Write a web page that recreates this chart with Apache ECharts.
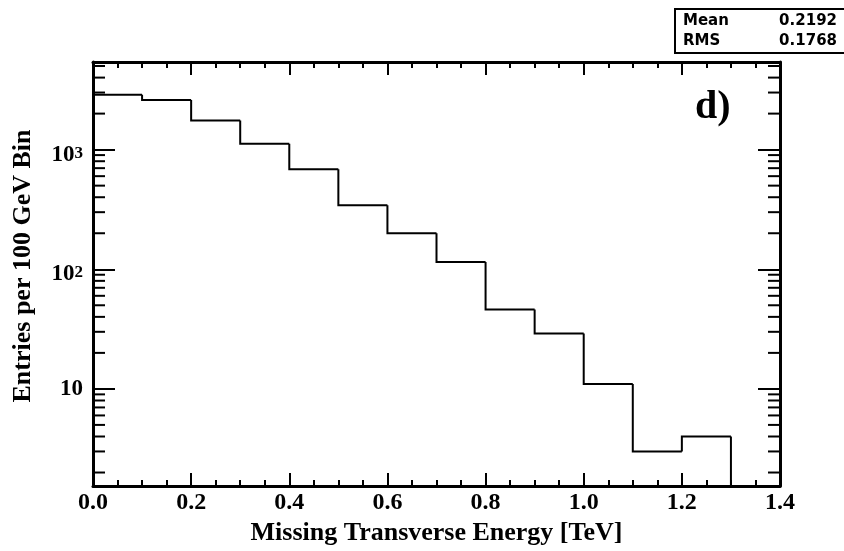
<!DOCTYPE html>
<html>
<head>
<meta charset="utf-8">
<script src="https://cdn.jsdelivr.net/npm/echarts@6/dist/echarts.min.js"></script>
<style>
html,body{margin:0;padding:0;background:#fff;}
#chart{width:844px;height:551px;}
</style>
</head>
<body>
<div id="chart"></div>
<script>
// ---- data ----
const binLow = [0.0, 0.1, 0.2, 0.3, 0.4, 0.5, 0.6, 0.7, 0.8, 0.9, 1.0, 1.1, 1.2, 1.3];
const binWidth = 0.1;
const counts = [2870, 2600, 1750, 1120, 685, 342, 200, 115, 46, 29, 11, 3, 4, 0];
const xTickLabels = ['0.0', '0.2', '0.4', '0.6', '0.8', '1.0', '1.2', '1.4'];
const yMinorTicks = [2, 3, 4, 5, 6, 7, 8, 9, 20, 30, 40, 50, 60, 70, 80, 90,
  200, 300, 400, 500, 600, 700, 800, 900, 2000, 3000, 4000, 5000];
const statsNames = ['Mean', 'RMS'];
const statsValues = ['0.2192', '0.1768'];
const xTitle = 'Missing Transverse Energy [TeV]';
const yTitle = 'Entries per 100 GeV Bin';
const panelLabel = 'd)';

const FONT = 'Liberation Serif';
const chart = echarts.init(document.getElementById('chart'), null, {renderer: 'canvas'});

const histData = binLow.map((lo, i) => [lo, lo + binWidth, counts[i], i > 0 ? counts[i - 1] : -1]);

function xAxisCfg(pos, showLabel) {
  return {
    type: 'value', position: pos, min: 0, max: 1.4, interval: 0.2,
    axisLine: {show: true, onZero: false, lineStyle: {color: '#000', width: 3}},
    axisTick: {show: true, inside: true, length: 13, lineStyle: {color: '#000', width: 2}},
    minorTick: {show: true, splitNumber: 4, length: 6, lineStyle: {color: '#000', width: 2}},
    splitLine: {show: false}, minorSplitLine: {show: false},
    axisLabel: {show: showLabel, margin: 5, color: '#000', fontFamily: FONT, fontWeight: 'bold', fontSize: 24,
      formatter: v => xTickLabels[Math.round(v / 0.2)] || ''}
  };
}
function yAxisCfg(pos, showLabel) {
  return {
    type: 'log', logBase: 10, position: pos, min: 1.54, max: 5400,
    axisLine: {show: true, onZero: false, lineStyle: {color: '#000', width: 3}},
    axisTick: {show: true, inside: true, length: 22, lineStyle: {color: '#000', width: 2}},
    minorTick: {show: false}, splitLine: {show: false},
    axisLabel: {show: showLabel, margin: 10, showMinLabel: false, showMaxLabel: false,
      color: '#000', fontFamily: FONT, fontWeight: 'bold',
      formatter: function (v) {
        const e = Math.round(Math.log10(v));
        if (Math.abs(v - Math.pow(10, e)) > 1e-6 * v) return '';
        if (e === 1) return '{c|10}';
        return '{b|10}{s|' + e + '}';
      },
      rich: {
        c: {fontFamily: FONT, fontWeight: 'bold', fontSize: 23, color: '#000'},
        b: {fontFamily: FONT, fontWeight: 'bold', fontSize: 23, lineHeight: 20, padding: [10, 0, 0, 0], color: '#000'},
        s: {fontFamily: FONT, fontWeight: 'bold', fontSize: 17, lineHeight: 16, padding: [5, 0, 0, 0], verticalAlign: 'top', color: '#000'}
      }
    }
  };
}

const option = {
  backgroundColor: '#fff',
  animation: false,
  grid: {left: 93, right: 64, top: 62, bottom: 59, containLabel: false},
  xAxis: [
    Object.assign(xAxisCfg('bottom', true), {name: xTitle, nameLocation: 'middle', nameGap: 31,
      nameTextStyle: {fontFamily: FONT, fontWeight: 'bold', fontSize: 26, color: '#000'}}),
    xAxisCfg('top', false)
  ],
  yAxis: [yAxisCfg('left', true), yAxisCfg('right', false)],
  graphic: [
    {type: 'text', x: 23, y: 266, rotation: Math.PI / 2,
      style: {text: yTitle, font: 'bold 26px "Liberation Serif"', fill: '#000', textAlign: 'center', textVerticalAlign: 'middle'}},
    {type: 'text', x: 695, y: 108,
      style: {text: panelLabel, font: 'bold 40px "Liberation Serif"', fill: '#000', textAlign: 'left', textVerticalAlign: 'middle'}},
    {type: 'rect', shape: {x: 675, y: 9, width: 172, height: 44}, style: {fill: '#fff', stroke: '#000', lineWidth: 2}},
    {type: 'text', x: 683, y: 21, style: {text: statsNames[0], font: 'bold 15px "DejaVu Sans"', fill: '#000', textAlign: 'left', textVerticalAlign: 'middle'}},
    {type: 'text', x: 837, y: 21, style: {text: statsValues[0], font: 'bold 15px "DejaVu Sans"', fill: '#000', textAlign: 'right', textVerticalAlign: 'middle'}},
    {type: 'text', x: 683, y: 41, style: {text: statsNames[1], font: 'bold 15px "DejaVu Sans"', fill: '#000', textAlign: 'left', textVerticalAlign: 'middle'}},
    {type: 'text', x: 837, y: 41, style: {text: statsValues[1], font: 'bold 15px "DejaVu Sans"', fill: '#000', textAlign: 'right', textVerticalAlign: 'middle'}}
  ],
  series: [
    {
      type: 'custom', name: 'hist', xAxisIndex: 0, yAxisIndex: 0, clip: true,
      encode: {x: [0, 1], y: 2},
      data: histData,
      renderItem: function (params, api) {
        const cs = params.coordSys;
        const bottom = cs.y + cs.height;
        const lo = api.value(0), hi = api.value(1), c = api.value(2), prev = api.value(3);
        const yOf = v => (v > 0 ? api.coord([lo, v])[1] : bottom);
        const xl = api.coord([lo, 10])[0], xh = api.coord([hi, 10])[0];
        const pts = [];
        if (prev >= 0) pts.push([xl, yOf(prev)]);
        pts.push([xl, yOf(c)]);
        if (c > 0) pts.push([xh, yOf(c)]);
        return {type: 'polyline', shape: {points: pts}, style: {stroke: '#000', lineWidth: 2, fill: null}};
      }
    },
    {
      type: 'custom', name: 'minorTicks', xAxisIndex: 0, yAxisIndex: 0, clip: false,
      encode: {y: 0},
      data: yMinorTicks.map(v => [v]),
      renderItem: function (params, api) {
        const cs = params.coordSys;
        const y = api.coord([0, api.value(0)])[1];
        const L = 12;
        return {type: 'group', children: [
          {type: 'line', shape: {x1: cs.x, y1: y, x2: cs.x + L, y2: y}, style: {stroke: '#000', lineWidth: 2}},
          {type: 'line', shape: {x1: cs.x + cs.width - L, y1: y, x2: cs.x + cs.width, y2: y}, style: {stroke: '#000', lineWidth: 2}}
        ]};
      }
    }
  ]
};
chart.setOption(option);
</script>
</body>
</html>
